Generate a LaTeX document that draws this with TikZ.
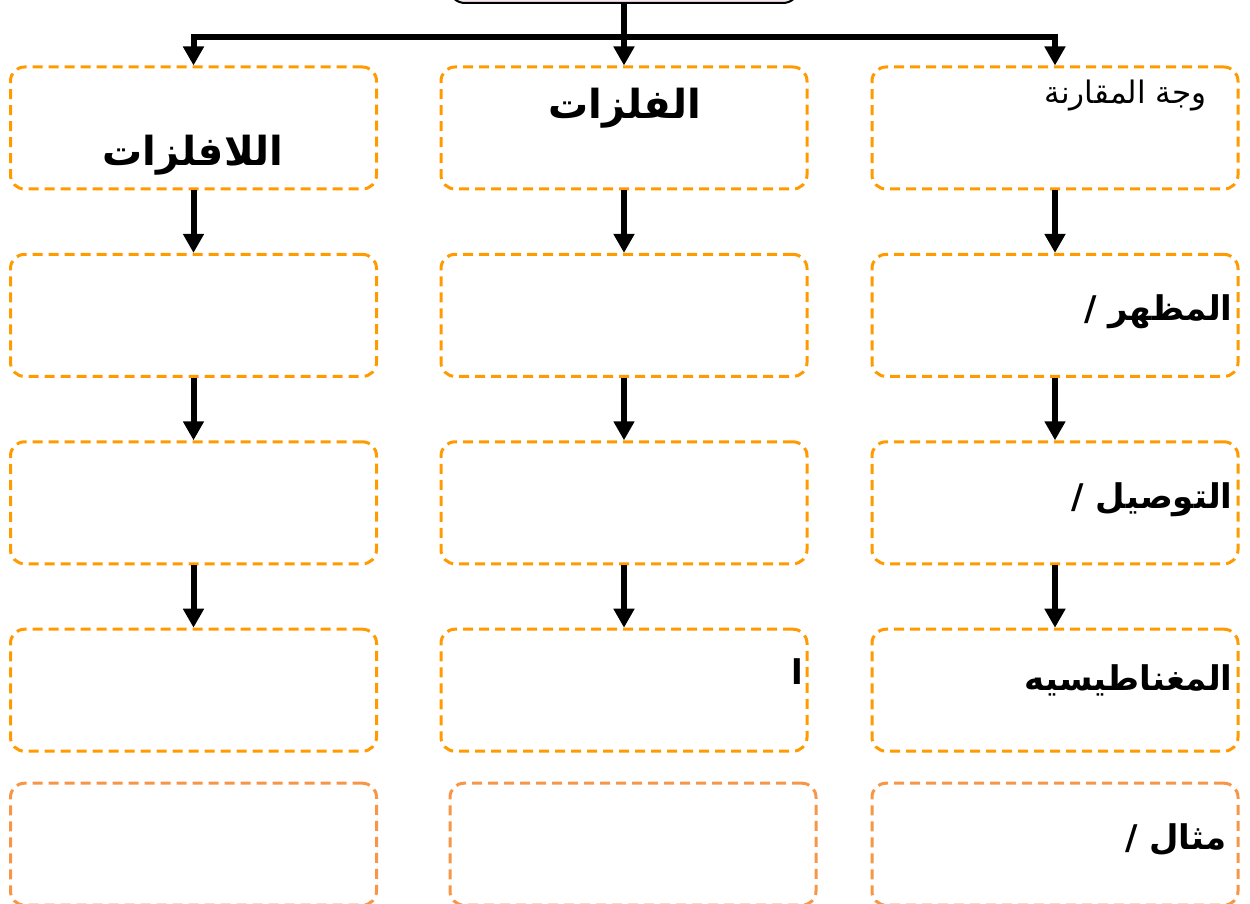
\documentclass[tikz,border=0pt]{standalone}
\usepackage{fontspec}
\usepackage{tikz}
\usetikzlibrary{positioning, arrows.meta}
\newfontfamily\arabicfont[Script=Arabic]{DejaVu Sans}
\TeXXeTstate=1
\definecolor{boxorange}{RGB}{255,155,0}
\definecolor{lastorange}{RGB}{247,150,70}
\definecolor{rootfill}{RGB}{248,232,242}

\begin{document}
\begin{tikzpicture}[x=0.5pt, y=-0.5pt, >={Triangle[width=10pt,length=9.5pt]},
        node distance=31.2pt,
        box/.style={draw=boxorange, line width=1.5pt, dash pattern=on 5pt off 3pt,
            rounded corners=7pt, minimum width=183pt, minimum height=61pt},
        lastbox/.style={box, draw=lastorange},
        link/.style={line width=3pt},
        head/.style={inner sep=0pt, font=\arabicfont\bfseries\fontsize{20}{24}\selectfont},
        side/.style={inner sep=0pt, anchor=east, font=\arabicfont\bfseries\fontsize{17}{20}\selectfont},
        plain/.style={inner sep=0pt, anchor=east, font=\arabicfont\fontsize{15.5}{18}\selectfont}]
    \useasboundingbox (0,0) rectangle (1250,904);
    \clip (0,0) rectangle (1250,904);

    \node[draw, line width=1pt, fill=rootfill, rounded corners=8pt,
        minimum width=175pt, minimum height=30pt] (root) at (624,-27) {};

    % column heads
    \node[box] (nonmetal) at (193.5,128) {};
    \node[box] (metal) at (624,128) {};
    \node[box] (face) at (1055,128) {};

    \node[box, below=of nonmetal] (nonLook) {};
    \node[box, below=of nonLook] (nonCond) {};
    \node[box, below=of nonCond] (nonMag) {};
    \node[lastbox, below=14.5pt of nonMag] (nonEx) {};

    \node[box, below=of metal] (metLook) {};
    \node[box, below=of metLook] (metCond) {};
    \node[box, below=of metCond] (metMag) {};
    \node[lastbox, below=14.5pt of metMag, xshift=4.5pt] (metEx) {};

    \node[box, below=of face] (look) {};
    \node[box, below=of look] (cond) {};
    \node[box, below=of cond] (magnet) {};
    \node[lastbox, below=14.5pt of magnet] (example) {};

    % texts
    \node[plain] (faceTxt) at (1207,96) {\beginR وجة المقارنة\endR};
    \node[head] (metalTxt) at (625,108) {\beginR الفلزات\endR};
    \node[head] (nonmetalTxt) at (193,155) {\beginR اللافلزات\endR};
    \node[side] (lookTxt) at (1233,312) {\beginR المظهر /\endR};
    \node[side] (condTxt) at (1233,500) {\beginR التوصيل /\endR};
    \node[side] (magTxt) at (1233,680) {\beginR المغناطيسيه\endR};
    \node[side] (exTxt) at (1227,840) {\beginR مثال /\endR};
    \node[inner sep=0pt, font=\arabicfont\bfseries\fontsize{17}{20}\selectfont] (strayTxt) at (797,672) {\beginR ا\endR};

    % connectors
    \coordinate (split) at (624,37);
    \draw[link, ->] (split) -| (nonmetal);
    \draw[link, ->] (split) -| (face);
    \draw[link, ->] (root) -- (metal);

    \draw[link, ->] (nonmetal) -- (nonLook);
    \draw[link, ->] (nonLook) -- (nonCond);
    \draw[link, ->] (nonCond) -- (nonMag);
    \draw[link, ->] (metal) -- (metLook);
    \draw[link, ->] (metLook) -- (metCond);
    \draw[link, ->] (metCond) -- (metMag);
    \draw[link, ->] (face) -- (look);
    \draw[link, ->] (look) -- (cond);
    \draw[link, ->] (cond) -- (magnet);
\end{tikzpicture}
\end{document}
